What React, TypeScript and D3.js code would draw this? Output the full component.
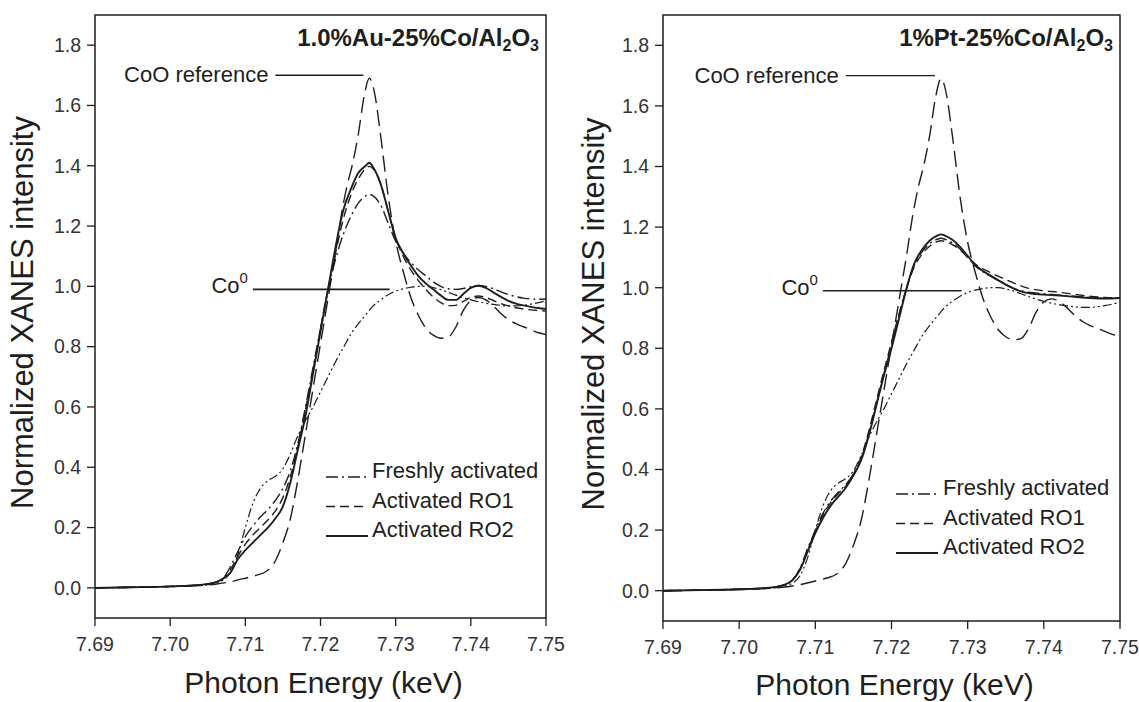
import React from 'react';
import * as d3 from 'd3';

type Pt = [number, number];

// axis ticks
const xTicks = [7.69, 7.7, 7.71, 7.72, 7.73, 7.74, 7.75];
const yTicks = [0, 0.2, 0.4, 0.6, 0.8, 1.0, 1.2, 1.4, 1.6, 1.8];

// references (same in both panels)
const cooReference: Pt[] = [
  [7.690, 0.000], [7.695, 0.002], [7.700, 0.004], [7.704, 0.008], [7.706, 0.012], [7.708, 0.02],
  [7.710, 0.032], [7.7115, 0.042], [7.7128, 0.055], [7.714, 0.09], [7.715, 0.15], [7.716, 0.23],
  [7.717, 0.36], [7.718, 0.51], [7.719, 0.66], [7.720, 0.81], [7.721, 0.96], [7.722, 1.11],
  [7.7228, 1.24], [7.7235, 1.33], [7.7242, 1.40], [7.725, 1.50], [7.7258, 1.63], [7.7265, 1.69],
  [7.7272, 1.64], [7.728, 1.50], [7.729, 1.30], [7.730, 1.15], [7.731, 1.05], [7.732, 0.965],
  [7.733, 0.905], [7.734, 0.862], [7.735, 0.838], [7.736, 0.828], [7.737, 0.832], [7.738, 0.865],
  [7.739, 0.92], [7.740, 0.953], [7.741, 0.963], [7.742, 0.955], [7.743, 0.935], [7.744, 0.91],
  [7.745, 0.89], [7.746, 0.876], [7.747, 0.866], [7.748, 0.856], [7.749, 0.846], [7.750, 0.84],
];

const coFoil: Pt[] = [
  [7.690, 0.000], [7.700, 0.004], [7.704, 0.008], [7.706, 0.015], [7.707, 0.025], [7.708, 0.05],
  [7.709, 0.11], [7.710, 0.20], [7.711, 0.28], [7.712, 0.33], [7.713, 0.355], [7.714, 0.37],
  [7.715, 0.395], [7.716, 0.445], [7.717, 0.505], [7.718, 0.555], [7.719, 0.60], [7.720, 0.65],
  [7.721, 0.70], [7.722, 0.75], [7.723, 0.795], [7.724, 0.84], [7.725, 0.875], [7.726, 0.905],
  [7.727, 0.935], [7.728, 0.955], [7.729, 0.972], [7.730, 0.984], [7.731, 0.992], [7.732, 0.997],
  [7.733, 1.0], [7.734, 1.0], [7.735, 0.996], [7.736, 0.989], [7.737, 0.98], [7.738, 0.971],
  [7.739, 0.962], [7.740, 0.955], [7.741, 0.949], [7.742, 0.944], [7.743, 0.94], [7.744, 0.937],
  [7.745, 0.935], [7.746, 0.935], [7.747, 0.937], [7.748, 0.941], [7.749, 0.946], [7.750, 0.952],
];

// 1.0%Au-25%Co/Al2O3
const auFresh: Pt[] = [
  [7.690, 0.000], [7.695, 0.002], [7.700, 0.005], [7.704, 0.01], [7.706, 0.018], [7.707, 0.03],
  [7.708, 0.07], [7.709, 0.12], [7.710, 0.17], [7.711, 0.205], [7.712, 0.235], [7.713, 0.26],
  [7.714, 0.29], [7.715, 0.33], [7.716, 0.39], [7.717, 0.48], [7.718, 0.60], [7.719, 0.73],
  [7.720, 0.86], [7.721, 0.99], [7.722, 1.09], [7.723, 1.17], [7.724, 1.23], [7.725, 1.275],
  [7.726, 1.30], [7.7265, 1.305], [7.727, 1.30], [7.728, 1.27], [7.729, 1.21], [7.730, 1.15],
  [7.731, 1.11], [7.732, 1.08], [7.733, 1.055], [7.734, 1.035], [7.735, 1.015], [7.736, 1.0],
  [7.737, 0.992], [7.738, 0.99], [7.739, 0.993], [7.740, 0.999], [7.741, 1.003], [7.742, 1.0],
  [7.743, 0.992], [7.744, 0.982], [7.745, 0.973], [7.746, 0.966], [7.747, 0.961], [7.748, 0.958],
  [7.749, 0.957], [7.750, 0.958],
];

const auRO1: Pt[] = [
  [7.690, 0.000], [7.695, 0.002], [7.700, 0.005], [7.704, 0.01], [7.706, 0.018], [7.707, 0.03],
  [7.708, 0.06], [7.709, 0.105], [7.710, 0.145], [7.711, 0.175], [7.712, 0.2], [7.713, 0.225],
  [7.714, 0.255], [7.715, 0.3], [7.716, 0.37], [7.717, 0.47], [7.718, 0.59], [7.719, 0.72],
  [7.720, 0.86], [7.721, 0.99], [7.722, 1.11], [7.723, 1.22], [7.724, 1.30], [7.725, 1.355],
  [7.726, 1.39], [7.7265, 1.398], [7.727, 1.39], [7.728, 1.34], [7.729, 1.25], [7.730, 1.16],
  [7.731, 1.10], [7.732, 1.055], [7.733, 1.02], [7.734, 0.99], [7.735, 0.965], [7.736, 0.946],
  [7.737, 0.936], [7.738, 0.937], [7.739, 0.95], [7.740, 0.963], [7.741, 0.968], [7.742, 0.963],
  [7.743, 0.953], [7.744, 0.943], [7.745, 0.935], [7.746, 0.929], [7.747, 0.925], [7.748, 0.922],
  [7.749, 0.92], [7.750, 0.918],
];

const auRO2: Pt[] = [
  [7.690, 0.000], [7.695, 0.002], [7.700, 0.005], [7.704, 0.01], [7.706, 0.018], [7.707, 0.03],
  [7.708, 0.05], [7.709, 0.095], [7.710, 0.125], [7.711, 0.15], [7.712, 0.175], [7.713, 0.2],
  [7.714, 0.23], [7.715, 0.27], [7.716, 0.35], [7.717, 0.46], [7.718, 0.57], [7.719, 0.71],
  [7.720, 0.85], [7.721, 0.99], [7.722, 1.13], [7.723, 1.25], [7.724, 1.32], [7.725, 1.375],
  [7.726, 1.40], [7.7265, 1.41], [7.727, 1.395], [7.728, 1.34], [7.729, 1.25], [7.730, 1.16],
  [7.731, 1.11], [7.732, 1.07], [7.733, 1.035], [7.734, 1.01], [7.735, 0.99], [7.736, 0.97],
  [7.737, 0.955], [7.738, 0.955], [7.739, 0.975], [7.740, 0.995], [7.741, 1.002], [7.742, 0.995],
  [7.743, 0.98], [7.744, 0.965], [7.745, 0.952], [7.746, 0.943], [7.747, 0.937], [7.748, 0.932],
  [7.749, 0.928], [7.750, 0.925],
];

// 1%Pt-25%Co/Al2O3
const ptFresh: Pt[] = [
  [7.690, 0.000], [7.695, 0.002], [7.700, 0.005], [7.704, 0.01], [7.706, 0.02], [7.707, 0.035],
  [7.708, 0.075], [7.709, 0.14], [7.710, 0.2], [7.711, 0.255], [7.712, 0.295], [7.713, 0.325],
  [7.714, 0.35], [7.715, 0.385], [7.716, 0.435], [7.717, 0.515], [7.718, 0.615], [7.719, 0.715],
  [7.720, 0.81], [7.721, 0.91], [7.722, 1.0], [7.723, 1.075], [7.724, 1.118], [7.725, 1.145],
  [7.726, 1.16], [7.7265, 1.163], [7.727, 1.16], [7.728, 1.148], [7.729, 1.128], [7.730, 1.1],
  [7.731, 1.072], [7.732, 1.053], [7.733, 1.038], [7.734, 1.024], [7.735, 1.01], [7.736, 0.998],
  [7.737, 0.99], [7.738, 0.985], [7.740, 0.98], [7.742, 0.976], [7.744, 0.972], [7.746, 0.968],
  [7.748, 0.965], [7.750, 0.966],
];

const ptRO1: Pt[] = [
  [7.690, 0.000], [7.695, 0.002], [7.700, 0.005], [7.704, 0.01], [7.706, 0.02], [7.707, 0.035],
  [7.708, 0.072], [7.709, 0.135], [7.710, 0.195], [7.711, 0.25], [7.712, 0.29], [7.713, 0.32],
  [7.714, 0.345], [7.715, 0.385], [7.716, 0.44], [7.717, 0.525], [7.718, 0.625], [7.719, 0.725],
  [7.720, 0.82], [7.721, 0.915], [7.722, 1.0], [7.723, 1.07], [7.724, 1.11], [7.725, 1.137],
  [7.726, 1.152], [7.7265, 1.155], [7.727, 1.153], [7.728, 1.142], [7.729, 1.125], [7.730, 1.1],
  [7.731, 1.078], [7.732, 1.062], [7.733, 1.05], [7.734, 1.038], [7.735, 1.027], [7.736, 1.016],
  [7.737, 1.006], [7.738, 0.998], [7.740, 0.99], [7.742, 0.985], [7.744, 0.978], [7.746, 0.972],
  [7.748, 0.968], [7.750, 0.966],
];

const ptRO2: Pt[] = [
  [7.690, 0.000], [7.695, 0.002], [7.700, 0.005], [7.704, 0.01], [7.706, 0.02], [7.707, 0.035],
  [7.708, 0.07], [7.709, 0.13], [7.710, 0.19], [7.711, 0.24], [7.712, 0.28], [7.713, 0.31],
  [7.714, 0.34], [7.715, 0.38], [7.716, 0.43], [7.717, 0.51], [7.718, 0.61], [7.719, 0.71],
  [7.720, 0.80], [7.721, 0.90], [7.722, 1.0], [7.723, 1.08], [7.724, 1.125], [7.725, 1.155],
  [7.726, 1.172], [7.7265, 1.176], [7.727, 1.172], [7.728, 1.158], [7.729, 1.135], [7.730, 1.105],
  [7.731, 1.075], [7.732, 1.055], [7.733, 1.04], [7.734, 1.025], [7.735, 1.01], [7.736, 0.998],
  [7.737, 0.988], [7.738, 0.982], [7.739, 0.979], [7.740, 0.977], [7.742, 0.974], [7.744, 0.97],
  [7.746, 0.966], [7.748, 0.964], [7.750, 0.966],
];

const legendLabels = ['Freshly activated', 'Activated RO1', 'Activated RO2'];

const FONT = '"Liberation Sans", Arial, Helvetica, sans-serif';
const INK = '#1e1e1e';

// line styles: dash pattern + width
const lineStyle: Record<string, { dash?: string; w: number }> = {
  foil: { dash: '9,3,2,3,2,3', w: 1.2 },
  coo: { dash: '16,7', w: 1.4 },
  fresh: { dash: '12,4,2,4', w: 1.4 },
  ro1: { dash: '9,5', w: 1.4 },
  ro2: { w: 1.9 },
};

interface PanelProps {
  title: string; // part before Al2O3
  box: { x0: number; x1: number; top: number; bottom: number };
  fresh: Pt[];
  ro1: Pt[];
  ro2: Pt[];
  legend: { lineX: number; textX: number; y: number };
  yTitleX: number;
  xTitleY: number;
}

const Panel: React.FC<PanelProps> = ({ title, box, fresh, ro1, ro2, legend, yTitleX, xTitleY }) => {
  const x = d3.scaleLinear().domain([7.69, 7.75]).range([box.x0, box.x1]);
  const y = d3.scaleLinear().domain([-0.1, 1.9]).range([box.bottom, box.top]);
  const line = d3
    .line<Pt>()
    .x((d) => x(d[0]))
    .y((d) => y(d[1]))
    .curve(d3.curveMonotoneX);

  const series: [Pt[], string][] = [
    [coFoil, 'foil'],
    [cooReference, 'coo'],
    [fresh, 'fresh'],
    [ro1, 'ro1'],
    [ro2, 'ro2'],
  ];
  const legendKeys = ['fresh', 'ro1', 'ro2'];

  const cooY = y(1.7);
  const cooX0 = x(7.714);
  const cooX1 = x(7.7257);
  const co0Y = y(0.99);
  const co0X0 = x(7.711);
  const co0X1 = x(7.7292);

  return (
    <g fontFamily={FONT}>
      {series.map(([d, k]) => (
        <path
          key={k}
          d={line(d) || ''}
          fill="none"
          stroke={INK}
          strokeWidth={lineStyle[k].w}
          strokeDasharray={lineStyle[k].dash}
          strokeLinejoin="round"
        />
      ))}

      {/* frame */}
      <rect
        x={box.x0}
        y={box.top}
        width={box.x1 - box.x0}
        height={box.bottom - box.top}
        fill="none"
        stroke={INK}
        strokeWidth={1.5}
      />

      {/* y ticks */}
      {yTicks.map((t) => (
        <g key={'y' + t}>
          <line x1={box.x0 - 8} x2={box.x0} y1={y(t)} y2={y(t)} stroke={INK} strokeWidth={1.3} />
          <text x={box.x0 - 14} y={y(t)} dy="0.35em" textAnchor="end" fontSize={19.5} fill="#333">
            {d3.format('.1f')(t)}
          </text>
        </g>
      ))}

      {/* x ticks */}
      {xTicks.map((t) => (
        <g key={'x' + t}>
          <line x1={x(t)} x2={x(t)} y1={box.bottom} y2={box.bottom + 8} stroke={INK} strokeWidth={1.3} />
          <text x={x(t)} y={box.bottom + 33} textAnchor="middle" fontSize={19.5} fill="#333">
            {d3.format('.2f')(t)}
          </text>
        </g>
      ))}

      {/* axis titles */}
      <text
        transform={`translate(${yTitleX},${(box.top + box.bottom) / 2 - 4}) rotate(-90)`}
        textAnchor="middle"
        fontSize={31}
        fill={INK}
      >
        Normalized XANES intensity
      </text>
      <text x={(box.x0 + box.x1) / 2 + 3} y={xTitleY} textAnchor="middle" fontSize={30} fill={INK}>
        Photon Energy (keV)
      </text>

      {/* sample label */}
      <text x={box.x1 - 7} y={box.top + 31} textAnchor="end" fontSize={24} fontWeight="bold" fill={INK}>
        {title}
        <tspan fontSize={16} dy={5}>2</tspan>
        <tspan dy={-5}>O</tspan>
        <tspan fontSize={16} dy={5}>3</tspan>
      </text>

      {/* CoO reference annotation */}
      <line x1={cooX0} x2={cooX1} y1={cooY} y2={cooY} stroke={INK} strokeWidth={1.4} />
      <text x={cooX0 - 7} y={cooY + 7} textAnchor="end" fontSize={22} fill={INK}>
        CoO reference
      </text>

      {/* Co0 annotation */}
      <line x1={co0X0} x2={co0X1} y1={co0Y} y2={co0Y} stroke={INK} strokeWidth={1.6} />
      <text x={co0X0 - 5} y={co0Y + 4} textAnchor="end" fontSize={22} fill={INK}>
        Co
        <tspan fontSize={15} dy={-10}>0</tspan>
      </text>

      {/* legend */}
      {legendLabels.map((lab, i) => {
        const ly = legend.y + i * 29.5;
        const k = legendKeys[i];
        return (
          <g key={lab}>
            <line
              x1={legend.lineX}
              x2={legend.lineX + 42}
              y1={ly - 1}
              y2={ly - 1}
              stroke={INK}
              strokeWidth={lineStyle[k].w}
              strokeDasharray={lineStyle[k].dash}
            />
            <text x={legend.textX} y={ly} fontSize={22} fill={INK}>
              {lab}
            </text>
          </g>
        );
      })}
    </g>
  );
};

export default function App() {
  return (
    <svg
      width={1139}
      height={702}
      style={{ position: 'absolute', left: 0, top: 0, background: '#fff' }}
    >
      <rect width={1139} height={702} fill="#fff" />
      <Panel
        title="1.0%Au-25%Co/Al"
        box={{ x0: 95, x1: 546, top: 15, bottom: 618 }}
        fresh={auFresh}
        ro1={auRO1}
        ro2={auRO2}
        legend={{ lineX: 326, textX: 372, y: 478 }}
        yTitleX={33}
        xTitleY={693}
      />
      <Panel
        title="1%Pt-25%Co/Al"
        box={{ x0: 663, x1: 1120, top: 15, bottom: 621 }}
        fresh={ptFresh}
        ro1={ptRO1}
        ro2={ptRO2}
        legend={{ lineX: 896, textX: 943, y: 495 }}
        yTitleX={604}
        xTitleY={695}
      />
    </svg>
  );
}
